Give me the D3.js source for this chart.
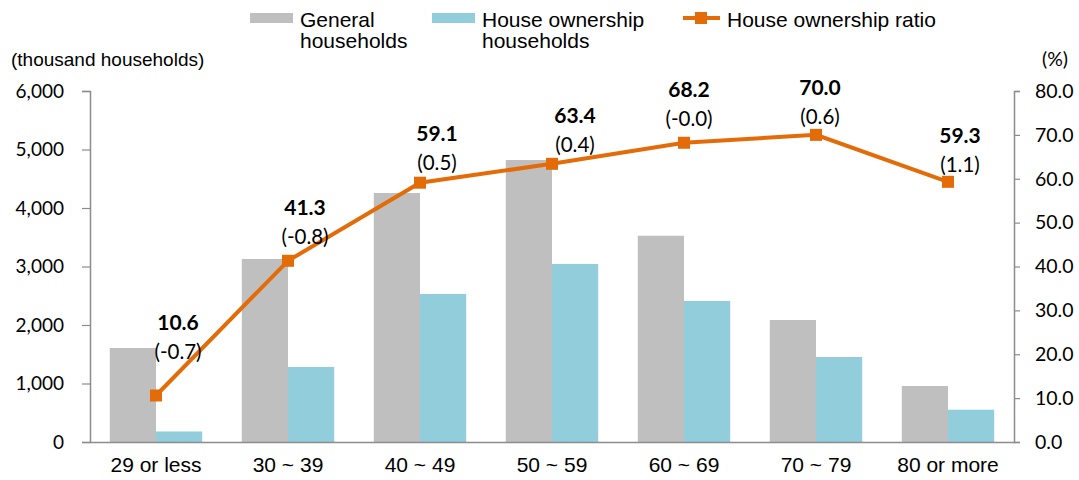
<!DOCTYPE html>
<html>
<head>
<meta charset="utf-8">
<script src="https://cdn.jsdelivr.net/npm/d3@7"></script>
<style>
  body { margin: 0; background: #fff; }
  svg text { fill: #000; }
</style>
</head>
<body>
<div id="chart"></div>
<script>
// age groups of the household head
var categories = ["29 or less", "30 ~ 39", "40 ~ 49", "50 ~ 59", "60 ~ 69", "70 ~ 79", "80 or more"];
// thousand households
var generalHouseholds = [1607, 3128, 4256, 4820, 3526, 2085, 957];
var ownerHouseholds = [180, 1282, 2530, 3043, 2410, 1453, 552];
// ownership ratio (%) and change from previous year
var ownershipRatio = [10.6, 41.3, 59.1, 63.4, 68.2, 70.0, 59.3];
var ratioChange = ["-0.7", "-0.8", "0.5", "0.4", "-0.0", "0.6", "1.1"];
var leftTicks = [0, 1000, 2000, 3000, 4000, 5000, 6000];
var rightTicks = [0, 10, 20, 30, 40, 50, 60, 70, 80];

// hand nudges for the data labels (as in the original layout)
var labelNudge = [[22, -23], [17, -4], [17, 0], [23, 1], [5, -4], [4, 2], [12, 3]];

var width = 1079, height = 480;
var margin = { left: 90, right: 65, top: 91, bottom: 38 };

var gray = "#bfbfbf", blue = "#92cddc", orange = "#e36c09", axisColor = "#8c8c8c";
var tickFont = "Lato, 'Open Sans', sans-serif";
var arial = "'Liberation Sans', Arial, sans-serif";

var svg = d3.select("#chart").append("svg")
  .attr("width", width)
  .attr("height", height);

var x = d3.scaleBand()
  .domain(categories)
  .range([margin.left, width - margin.right])
  .paddingInner(0.3)
  .paddingOuter(0.15);

var yLeft = d3.scaleLinear().domain([0, 6000]).range([height - margin.bottom, margin.top]);
var yRight = d3.scaleLinear().domain([0, 80]).range([height - margin.bottom, margin.top]);

var half = x.bandwidth() / 2;

// bars
svg.append("g").selectAll("rect")
  .data(generalHouseholds)
  .enter().append("rect")
    .attr("x", function(d, i) { return x(categories[i]); })
    .attr("y", function(d) { return yLeft(d); })
    .attr("width", half)
    .attr("height", function(d) { return yLeft(0) - yLeft(d); })
    .attr("fill", gray);

svg.append("g").selectAll("rect")
  .data(ownerHouseholds)
  .enter().append("rect")
    .attr("x", function(d, i) { return x(categories[i]) + half; })
    .attr("y", function(d) { return yLeft(d); })
    .attr("width", half)
    .attr("height", function(d) { return yLeft(0) - yLeft(d); })
    .attr("fill", blue);

// left axis
var gl = svg.append("g")
  .attr("transform", "translate(" + margin.left + ",0)")
  .call(d3.axisLeft(yLeft).tickValues(leftTicks).tickSize(8).tickPadding(18).tickFormat(d3.format(",")));
gl.select(".domain").attr("stroke", axisColor).attr("stroke-width", 1.5);
gl.selectAll(".tick line").attr("stroke", axisColor).attr("stroke-width", 1.2);
gl.selectAll(".tick text").style("font-family", tickFont).style("font-size", "19px").attr("fill", "#111");

// right axis
var gr = svg.append("g")
  .attr("transform", "translate(" + (width - margin.right) + ",0)")
  .call(d3.axisRight(yRight).tickValues(rightTicks).tickSize(6).tickPadding(15).tickFormat(d3.format(".1f")));
gr.select(".domain").attr("stroke", axisColor).attr("stroke-width", 1.5);
gr.selectAll(".tick line").attr("stroke", axisColor).attr("stroke-width", 1.2);
gr.selectAll(".tick text").style("font-family", tickFont).style("font-size", "19.5px").attr("fill", "#111");

// bottom axis
var gb = svg.append("g")
  .attr("transform", "translate(0," + yLeft(0) + ")")
  .call(d3.axisBottom(x).tickSize(0).tickPadding(15));
gb.select(".domain").attr("stroke", axisColor).attr("stroke-width", 1.5);
gb.selectAll(".tick text").style("font-family", arial).style("font-size", "21px").attr("fill", "#111");

// ratio line
var line = d3.line()
  .x(function(d, i) { return x(categories[i]) + x.bandwidth() / 2; })
  .y(function(d) { return yRight(d); });

svg.append("path")
  .datum(ownershipRatio)
  .attr("d", line)
  .attr("fill", "none")
  .attr("stroke", orange)
  .attr("stroke-width", 4);

svg.append("g").selectAll("rect")
  .data(ownershipRatio)
  .enter().append("rect")
    .attr("x", function(d, i) { return x(categories[i]) + x.bandwidth() / 2 - 6; })
    .attr("y", function(d) { return yRight(d) - 6; })
    .attr("width", 12)
    .attr("height", 12)
    .attr("fill", orange);

// data labels
var labels = svg.append("g").selectAll("g")
  .data(ownershipRatio)
  .enter().append("g")
    .attr("transform", function(d, i) {
      var px = x(categories[i]) + x.bandwidth() / 2 + labelNudge[i][0];
      var py = yRight(d) + labelNudge[i][1];
      return "translate(" + px + "," + py + ")";
    });

labels.append("text")
  .attr("y", -42)
  .attr("text-anchor", "middle")
  .style("font-family", tickFont)
  .style("font-weight", "bold")
  .style("font-size", "21px")
  .text(function(d) { return d.toFixed(1); });

labels.append("text")
  .attr("y", -13)
  .attr("text-anchor", "middle")
  .style("font-family", tickFont)
  .style("font-size", "20.5px")
  .text(function(d, i) { return "(" + ratioChange[i] + ")"; });

// axis titles
svg.append("text")
  .attr("x", 11).attr("y", 66)
  .style("font-family", arial).style("font-size", "19px")
  .text("(thousand households)");

svg.append("text")
  .attr("x", 1042).attr("y", 66)
  .style("font-family", tickFont).style("font-size", "19.5px")
  .text("(%)");

// legend
var legend = svg.append("g").style("font-family", arial).style("font-size", "21px");

legend.append("rect").attr("x", 250).attr("y", 13).attr("width", 43).attr("height", 10).attr("fill", gray);
legend.append("text").attr("x", 300).attr("y", 27).text("General");
legend.append("text").attr("x", 300).attr("y", 48).text("households");

legend.append("rect").attr("x", 432).attr("y", 13).attr("width", 43).attr("height", 10).attr("fill", blue);
legend.append("text").attr("x", 482).attr("y", 27).text("House ownership");
legend.append("text").attr("x", 482).attr("y", 48).text("households");

legend.append("line").attr("x1", 683).attr("x2", 720).attr("y1", 18).attr("y2", 18)
  .attr("stroke", orange).attr("stroke-width", 4);
legend.append("rect").attr("x", 695).attr("y", 12).attr("width", 12).attr("height", 12).attr("fill", orange);
legend.append("text").attr("x", 727).attr("y", 27).text("House ownership ratio");
</script>
</body>
</html>
